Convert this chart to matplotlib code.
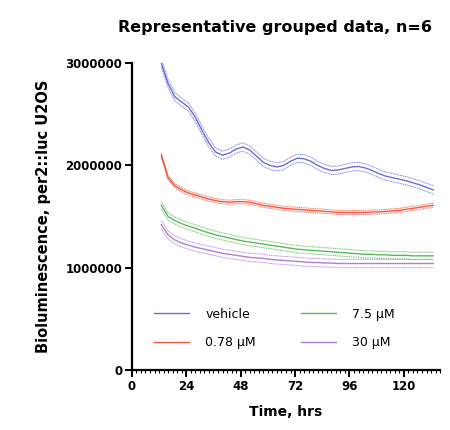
import numpy as np
import matplotlib
matplotlib.use('Agg')
import matplotlib.pyplot as plt
from matplotlib.ticker import MultipleLocator

plt.rcParams['font.family'] = ['DejaVu Sans']

# time points (hrs)
hours = list(range(13, 134, 3))

# group means (millions)
vehicle = [3.00, 2.80, 2.67, 2.62, 2.57, 2.47, 2.34, 2.22, 2.13, 2.10,
           2.12, 2.16, 2.18, 2.15, 2.09, 2.03, 2.00, 1.985, 2.00, 2.04,
           2.07, 2.065, 2.04, 2.00, 1.97, 1.95, 1.955, 1.97, 1.985, 1.99,
           1.975, 1.95, 1.92, 1.895, 1.88, 1.865, 1.85, 1.83, 1.81, 1.785, 1.76]
conc_078 = [2.10, 1.88, 1.80, 1.76, 1.73, 1.71, 1.69, 1.67, 1.655, 1.645,
            1.64, 1.645, 1.645, 1.64, 1.625, 1.61, 1.60, 1.59, 1.58, 1.575,
            1.57, 1.565, 1.56, 1.555, 1.55, 1.545, 1.54, 1.54, 1.54, 1.54,
            1.54, 1.545, 1.545, 1.55, 1.555, 1.56, 1.57, 1.58, 1.59, 1.60, 1.61]
conc_75 = [1.61, 1.50, 1.46, 1.43, 1.405, 1.385, 1.36, 1.34, 1.32, 1.305,
           1.29, 1.275, 1.26, 1.25, 1.24, 1.23, 1.22, 1.21, 1.20, 1.19,
           1.18, 1.175, 1.17, 1.165, 1.16, 1.155, 1.15, 1.145, 1.14, 1.135,
           1.13, 1.13, 1.125, 1.125, 1.12, 1.12, 1.12, 1.115, 1.115, 1.115, 1.115]
conc_30 = [1.42, 1.32, 1.27, 1.24, 1.22, 1.20, 1.185, 1.17, 1.155, 1.14,
           1.13, 1.12, 1.11, 1.10, 1.095, 1.09, 1.08, 1.075, 1.07, 1.065,
           1.06, 1.055, 1.05, 1.05, 1.045, 1.045, 1.04, 1.04, 1.04, 1.04,
           1.04, 1.04, 1.04, 1.04, 1.04, 1.04, 1.04, 1.04, 1.04, 1.04, 1.04]

# SEM per group (millions)
sem_vehicle = 0.04
sem_078 = 0.02
sem_75 = 0.035
sem_30 = 0.04

labels = ['vehicle', '0.78 µM', '7.5 µM', '30 µM']
colors = ['#6a6fd2', '#f0583e', '#5cb85c', '#b07fd0']

fig = plt.figure(figsize=(4.5, 4.3), dpi=100)
ax = fig.add_axes([0.293, 0.14, 0.685, 0.713])

t = np.array(hours)
groups = [(vehicle, sem_vehicle), (conc_078, sem_078), (conc_75, sem_75), (conc_30, sem_30)]
for (m, s), lab, c in zip(groups, labels, colors):
    m = np.array(m) * 1e6
    ax.plot(t, m, color=c, lw=1.0, label=lab)
    ax.plot(t, m + s * 1e6, color=c, lw=0.8, ls=(0, (1, 0.6)), alpha=0.8)
    ax.plot(t, m - s * 1e6, color=c, lw=0.8, ls=(0, (1, 0.6)), alpha=0.8)

ax.set_xlim(0, 136)
ax.set_ylim(0, 3000000)
ax.set_xticks([0, 24, 48, 72, 96, 120])
ax.xaxis.set_minor_locator(MultipleLocator(2))
ax.set_yticks([0, 1000000, 2000000, 3000000])
ax.set_yticklabels(['0', '1000000', '2000000', '3000000'])

for sp in ['top', 'right']:
    ax.spines[sp].set_visible(False)
for sp in ['left', 'bottom']:
    ax.spines[sp].set_linewidth(1.6)
ax.tick_params(axis='both', which='major', length=5, width=1.4, labelsize=8.5, pad=2)
ax.tick_params(axis='x', which='minor', length=2.5, width=0.8)
for lbl in ax.get_xticklabels() + ax.get_yticklabels():
    lbl.set_fontweight('bold')

ax.set_xlabel('Time, hrs', fontsize=10, fontweight='bold', labelpad=9)
ax.set_ylabel('Bioluminescence, per2::luc U2OS', fontsize=10.5, fontweight='bold', labelpad=10)
fig.text(0.61, 0.935, 'Representative grouped data, n=6', ha='center', va='center',
         fontsize=11.5, fontweight='bold')

ax.legend(loc='lower left', bbox_to_anchor=(0.035, 0.03), ncol=2, frameon=False,
          fontsize=9, handlelength=2.8, columnspacing=3.6, handletextpad=1.3,
          labelspacing=1.25)

fig.savefig('out.png', dpi=100)
